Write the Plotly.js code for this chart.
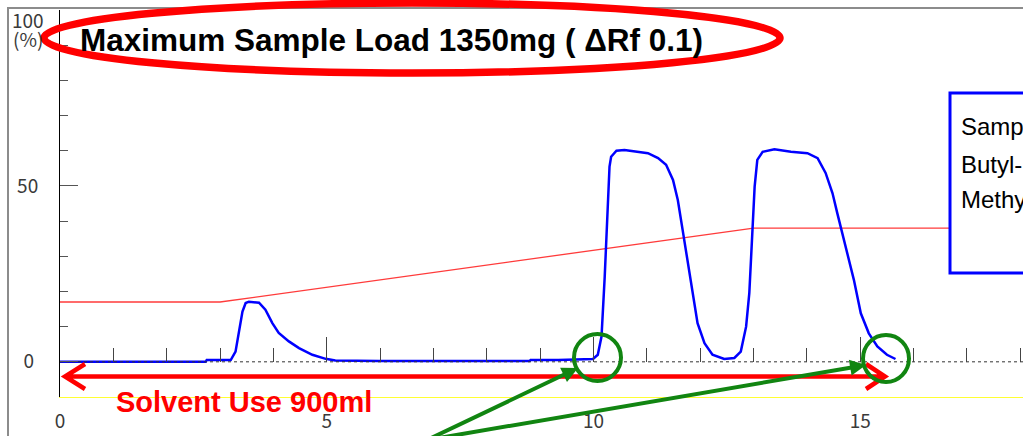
<!DOCTYPE html>
<html><head><meta charset="utf-8">
<script src="https://cdn.plot.ly/plotly-3.0.1.min.js"></script>
<style>html,body{margin:0;padding:0;background:#fff;overflow:hidden}#chart{width:1023px;height:436px}</style>
</head><body><div id="chart"></div>
<script>
// ---- data ----
const elutionVolume = [0, 2.73, 2.75, 3.10, 3.20, 3.29, 3.36, 3.42, 3.48, 3.54, 3.73, 3.85, 3.98, 4.10, 4.29, 4.48, 4.73, 4.98, 5.16, 5.97,
  8.80, 8.82, 9.34, 9.99, 10.08, 10.15, 10.21, 10.26, 10.30, 10.33, 10.43, 10.58, 10.83, 11.02, 11.21, 11.36, 11.49, 11.58, 11.67,
  11.77, 11.86, 11.95, 12.08, 12.23, 12.45, 12.64, 12.76, 12.86, 12.92, 12.98, 13.02, 13.07, 13.17, 13.39, 13.70, 14.01, 14.20,
  14.35, 14.48, 14.57, 14.66, 14.76, 14.88, 15.01, 15.16, 15.32, 15.50, 15.66];
const detectorSignal = [0, 0, 0.5, 0.5, 0.5, 2.9, 9.1, 14.3, 16.7, 17.1, 16.8, 14.8, 11.0, 8.2, 5.8, 3.9, 2.0, 0.85, 0.4, 0.2,
  0.2, 0.5, 0.5, 0.8, 2.0, 7.2, 24.2, 40.3, 55.5, 58.3, 60.0, 60.2, 59.7, 59.3, 57.9, 56.0, 51.7, 46.0, 37.5,
  28.0, 18.6, 11.0, 5.3, 2.0, 0.8, 1.1, 2.9, 10.0, 19.5, 35.6, 49.8, 57.4, 59.7, 60.4, 59.7, 59.3, 57.9,
  53.7, 47.9, 42.2, 36.6, 30.9, 23.3, 13.8, 8.1, 4.4, 2.0, 0.8];
const gradientVolume = [0, 3, 13, 18.05];
const gradientPercent = [17, 17, 38, 38];
const baselineVolume = [0, 18.05];
const baselineLevel = [0, 0];
const xTickVals = [0, 5, 10, 15];
const xTickText = ['0', '5', '10', '15'];
const xMajorTicks = [5, 10, 15];
const xMinorTicks = [1, 2, 3, 4, 6, 7, 8, 9, 11, 12, 13, 14, 16, 17, 18];
const yTickVals = [0, 50];
const yTickText = ['0\u00a0', '50'];
const yMinorTicks = [10, 20, 30, 40, 60, 70, 80, 90, 100];
const titleText = 'Maximum Sample Load 1350mg ( \u0394Rf 0.1)';
const solventText = 'Solvent Use 900ml';
const sampleLines = ['Sample:', 'Butyl-paraben', 'Methyl-paraben'];

// ---- geometry helpers (pixel -> data / paper) ----
const W = 1023, H = 436, L = 60, T = 10, B = 39;
const plotW = W - L, plotH = H - T - B;
const XR = [0, 18.05], YR = [-10, 100];
const dx = p => XR[0] + (p - L) / plotW * (XR[1] - XR[0]);
const dy = p => YR[1] - (p - T) / plotH * (YR[1] - YR[0]);
const ppx = p => (p - L) / plotW;
const ppy = p => (H - B - p) / plotH;

const tickFont = {family: 'Noto Sans CJK JP, DejaVu Sans, sans-serif', size: 19, color: '#3a3a3a'};
const green = '#118511';
const sansFont = 'Liberation Sans, Arial, sans-serif';

const traces = [
  {x: baselineVolume, y: baselineLevel, xaxis: 'x2', mode: 'lines', hoverinfo: 'skip',
   line: {color: '#333', width: 1, dash: '3px,3px'}},
  {x: gradientVolume, y: gradientPercent, mode: 'lines', hoverinfo: 'skip',
   line: {color: '#ff3b3b', width: 1.3}},
  {x: elutionVolume, y: detectorSignal, mode: 'lines', hoverinfo: 'skip',
   line: {color: '#0000ff', width: 2.5}}
];

const arrowY = dy(376.5);
const redPath = 'M' + dx(65) + ',' + arrowY + ' L' + dx(885) + ',' + arrowY +
  ' M' + dx(85) + ',' + dy(364) + ' L' + dx(65) + ',' + arrowY + ' L' + dx(85) + ',' + dy(389) +
  ' M' + dx(866) + ',' + dy(364) + ' L' + dx(885) + ',' + arrowY + ' L' + dx(866) + ',' + dy(389);

const layout = {
  width: W, height: H,
  margin: {l: L, r: 0, t: T, b: B, pad: 0},
  paper_bgcolor: '#fff', plot_bgcolor: '#fff',
  showlegend: false,
  title: {text: '<b>' + titleText + '</b>', x: 80 / W, xanchor: 'left', xref: 'container',
          y: 1 - 40 / H, yanchor: 'middle', yref: 'container',
          font: {family: sansFont, size: 31.5, color: '#000'}},
  xaxis: {range: XR, showline: true, linecolor: '#ffff33', linewidth: 1, ticks: '',
          tickvals: xTickVals, ticktext: xTickText, tickfont: tickFont, ticklabelstandoff: 7,
          showgrid: false, zeroline: false, fixedrange: true},
  xaxis2: {range: XR, overlaying: 'x', anchor: 'free', position: ppy(362), side: 'bottom',
           showline: false, ticks: 'inside', ticklen: 25, tickwidth: 1, tickcolor: '#444',
           tickvals: xMajorTicks, showticklabels: false, showgrid: false, zeroline: false,
           minor: {tickvals: xMinorTicks, ticks: 'inside', ticklen: 14, tickwidth: 1, tickcolor: '#444', showgrid: false},
           fixedrange: true},
  yaxis: {range: YR, showline: true, linecolor: '#000', linewidth: 1, ticks: 'inside', ticklen: 18,
          tickwidth: 1, tickcolor: '#555', tickvals: yTickVals, ticktext: yTickText, tickfont: tickFont,
          ticklabelstandoff: 17, showgrid: false, zeroline: false, fixedrange: true,
          minor: {tickvals: yMinorTicks, ticks: 'inside', ticklen: 8, tickwidth: 1, tickcolor: '#555', showgrid: false}},
  shapes: [
    {type: 'rect', xref: 'paper', yref: 'paper', x0: ppx(8), x1: ppx(1200), y0: ppy(700), y1: ppy(8),
     line: {color: '#8c8c8c', width: 2}, fillcolor: 'rgba(0,0,0,0)', layer: 'below'},
    {type: 'circle', xref: 'paper', yref: 'paper', x0: ppx(44), x1: ppx(780), y0: ppy(73), y1: ppy(3),
     line: {color: '#ff0000', width: 7.5}},
    {type: 'rect', xref: 'paper', yref: 'paper', x0: ppx(950), x1: ppx(1200), y0: ppy(273), y1: ppy(93),
     line: {color: '#0000ff', width: 3}, fillcolor: '#fff', layer: 'above'},
    {type: 'path', xref: 'x', yref: 'y', path: redPath, line: {color: '#ff0000', width: 4.5}},
    {type: 'circle', xref: 'x', yref: 'y', x0: dx(574), x1: dx(621), y0: dy(381), y1: dy(334),
     line: {color: green, width: 4}},
    {type: 'circle', xref: 'x', yref: 'y', x0: dx(863), x1: dx(909), y0: dy(382), y1: dy(335),
     line: {color: green, width: 4}}
  ],
  annotations: [
    {xref: 'paper', yref: 'paper', x: ppx(28), y: ppy(19), text: '100', showarrow: false,
     xanchor: 'center', yanchor: 'middle', font: tickFont},
    {xref: 'paper', yref: 'paper', x: ppx(28), y: ppy(39), text: '(%)', showarrow: false,
     xanchor: 'center', yanchor: 'middle', font: tickFont},
    {xref: 'paper', yref: 'paper', x: ppx(114), y: ppy(402), text: '<b>' + solventText + '</b>', showarrow: false,
     xanchor: 'left', yanchor: 'middle', font: {family: sansFont, size: 29, color: '#ff0000'}},
    {xref: 'paper', yref: 'paper', x: ppx(959), y: ppy(126), text: sampleLines[0], showarrow: false,
     xanchor: 'left', yanchor: 'middle', font: {family: sansFont, size: 24, color: '#000'}},
    {xref: 'paper', yref: 'paper', x: ppx(959), y: ppy(164), text: sampleLines[1], showarrow: false,
     xanchor: 'left', yanchor: 'middle', font: {family: sansFont, size: 24, color: '#000'}},
    {xref: 'paper', yref: 'paper', x: ppx(959), y: ppy(200), text: sampleLines[2], showarrow: false,
     xanchor: 'left', yanchor: 'middle', font: {family: sansFont, size: 24, color: '#000'}},
    {xref: 'x', yref: 'y', axref: 'x', ayref: 'y', x: dx(578), y: dy(368), ax: dx(427), ay: dy(440),
     text: '', showarrow: true, arrowhead: 2, arrowsize: 0.8, arrowwidth: 4, arrowcolor: green, standoff: 0},
    {xref: 'x', yref: 'y', axref: 'x', ayref: 'y', x: dx(866), y: dy(365), ax: dx(427), ay: dy(440),
     text: '', showarrow: true, arrowhead: 2, arrowsize: 0.8, arrowwidth: 4, arrowcolor: green, standoff: 0}
  ]
};

Plotly.newPlot('chart', traces, layout, {staticPlot: true, displayModeBar: false});
</script></body></html>
